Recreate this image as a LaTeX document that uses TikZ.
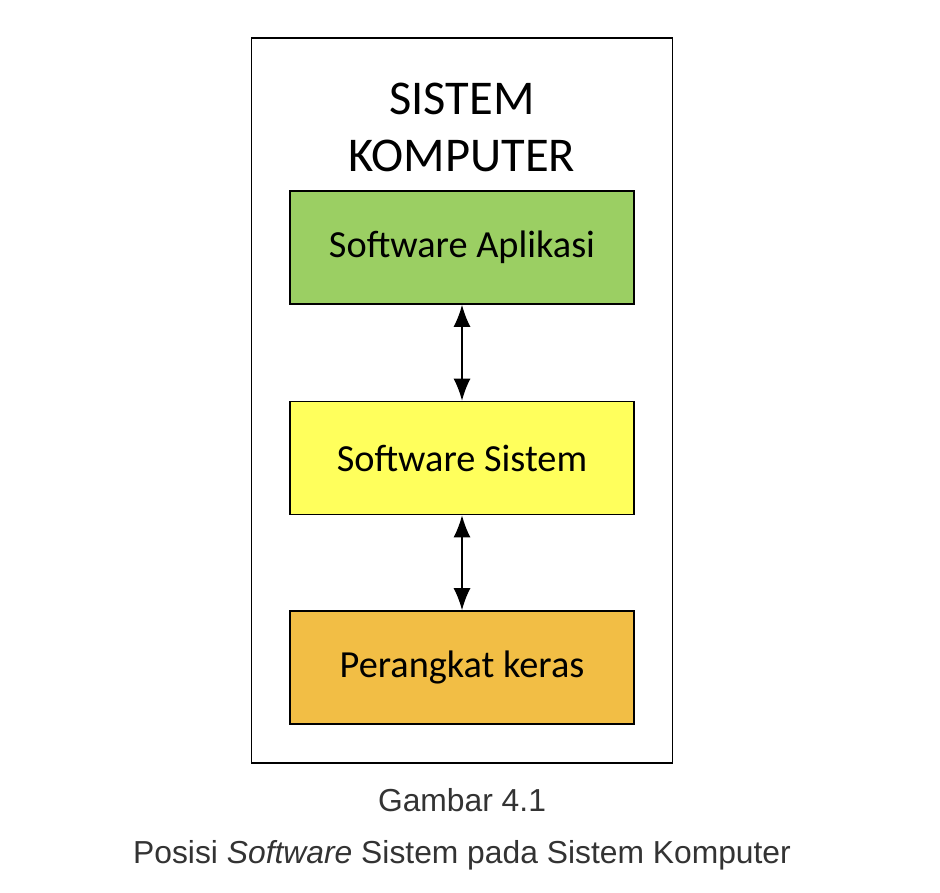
\documentclass[tikz,border=0pt]{standalone}
\usepackage{fontspec}
\setmainfont{Carlito}
\newfontfamily\capfont{Liberation Sans}
\usetikzlibrary{arrows.meta}
\definecolor{appgreen}{HTML}{9BCF63}
\definecolor{sysyellow}{HTML}{FFFF5C}
\definecolor{hworange}{HTML}{F2BE45}
\begin{document}
\begin{tikzpicture}[layer/.style={draw, line width=0.9pt, minimum width=6.88cm, minimum height=2.26cm, font=\fontsize{21.8}{26}\selectfont},
        link/.style={{Latex[length=0.44cm,width=0.34cm]}-{Latex[length=0.44cm,width=0.34cm]}, line width=0.9pt}]
        \useasboundingbox (0,0) rectangle (18.8,-17.84);
        \node (sys) at (9.24,-8.01) [draw, line width=0.8pt, minimum width=8.42cm, minimum height=14.5cm] {};
        \node (title) at (9.24,-2.55) [align=center, font=\fontsize{27.6}{32.5}\selectfont] {SISTEM\\KOMPUTER};

        \node (app) at (9.24,-4.95) [layer, fill=appgreen] {Software Aplikasi};
        \node (os) at (9.24,-9.16) [layer, fill=sysyellow] {Software Sistem};
        \node (hw) at (9.24,-13.35) [layer, fill=hworange] {Perangkat keras};
        \draw[link] (app) -- (os);
        \draw[link] (os) -- (hw);

        \node (fig) at (9.24,-16.0) [font=\capfont\fontsize{18.1}{22}\selectfont, text=black!80] {Gambar 4.1};
        \node (cap) at (9.24,-17.1) [font=\capfont\fontsize{18.1}{22}\selectfont, text=black!80] {Posisi \textit{Software} Sistem pada Sistem Komputer};
        \end{tikzpicture}
\end{document}
